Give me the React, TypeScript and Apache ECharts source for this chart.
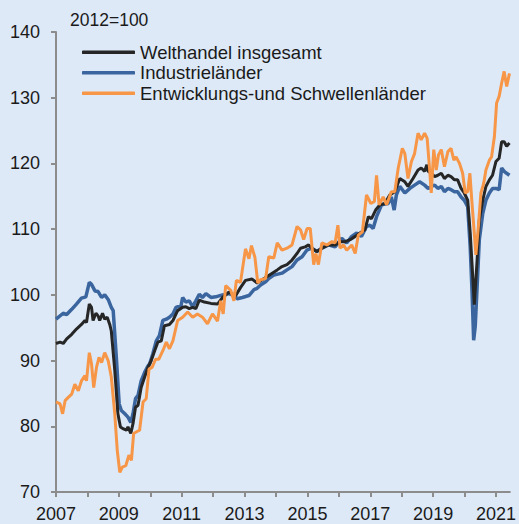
import React, { useEffect, useRef } from "react";
import * as echarts from "echarts";

const baseLabel = "2012=100";
const seriesNames = ["Welthandel insgesamt", "Industrieländer", "Entwicklungs-und Schwellenländer"];
const xTickYears = [2007, 2008, 2009, 2010, 2011, 2012, 2013, 2014, 2015, 2016, 2017, 2018, 2019, 2020, 2021];
const xLabelYears = [2007, 2009, 2011, 2013, 2015, 2017, 2019, 2021];

// [decimal year, index value]
const welthandel: [number, number][] = [
  [2007.0, 92.6], [2007.13, 92.8], [2007.23, 92.6], [2007.34, 93.3], [2007.5, 94.0], [2007.65, 94.8],
  [2007.81, 95.5], [2007.92, 96.1], [2007.97, 95.8], [2008.06, 98.6], [2008.13, 98.1], [2008.18, 96.1],
  [2008.27, 97.2], [2008.34, 96.8], [2008.39, 96.1], [2008.48, 97.2], [2008.55, 96.3], [2008.63, 96.6],
  [2008.71, 95.5], [2008.76, 94.5], [2008.87, 88.5], [2008.97, 81.9], [2009.05, 79.9], [2009.15, 79.6],
  [2009.24, 79.4], [2009.29, 79.9], [2009.38, 78.9], [2009.45, 80.4], [2009.53, 82.9], [2009.61, 83.2],
  [2009.71, 85.9], [2009.82, 87.5], [2009.93, 89.0], [2010.03, 90.0], [2010.14, 91.5], [2010.24, 92.8],
  [2010.35, 93.0], [2010.45, 95.3], [2010.61, 95.5], [2010.72, 96.1], [2010.87, 97.6], [2011.03, 98.1],
  [2011.13, 98.2], [2011.24, 97.9], [2011.35, 98.1], [2011.45, 97.9], [2011.56, 99.2], [2011.72, 98.9],
  [2011.93, 98.7], [2012.14, 98.6], [2012.3, 99.6], [2012.5, 100.4], [2012.72, 99.9], [2012.87, 101.1],
  [2013.03, 102.2], [2013.24, 102.4], [2013.4, 101.8], [2013.56, 102.3], [2013.72, 102.8], [2013.88, 103.3],
  [2014.04, 103.8], [2014.19, 104.3], [2014.35, 104.6], [2014.51, 105.3], [2014.67, 106.3], [2014.78, 107.1],
  [2014.93, 107.3], [2015.04, 107.6], [2015.14, 107.1], [2015.3, 106.6], [2015.46, 107.1], [2015.67, 107.6],
  [2015.88, 107.6], [2016.04, 108.1], [2016.2, 108.1], [2016.36, 108.4], [2016.52, 108.9], [2016.67, 109.4],
  [2016.83, 109.9], [2016.94, 111.9], [2017.04, 111.6], [2017.17, 112.9], [2017.31, 113.7], [2017.46, 113.9],
  [2017.62, 115.2], [2017.78, 115.7], [2017.94, 117.7], [2018.1, 117.2], [2018.2, 116.5], [2018.36, 117.7],
  [2018.52, 119.0], [2018.62, 119.3], [2018.73, 118.8], [2018.8, 119.8], [2018.84, 118.8], [2018.94, 118.5],
  [2019.05, 118.0], [2019.15, 118.2], [2019.26, 118.5], [2019.36, 117.7], [2019.47, 118.2], [2019.57, 118.0],
  [2019.68, 117.5], [2019.78, 117.5], [2019.89, 116.2], [2019.99, 115.5], [2020.1, 114.4], [2020.18, 109.4],
  [2020.26, 102.8], [2020.31, 98.5], [2020.4, 105.3], [2020.47, 111.4], [2020.58, 114.4], [2020.68, 116.5],
  [2020.79, 117.5], [2020.89, 118.2], [2021.0, 120.3], [2021.1, 120.8], [2021.18, 123.3], [2021.26, 123.3],
  [2021.34, 122.6], [2021.43, 123.1],
];

const industrie: [number, number][] = [
  [2007.0, 96.3], [2007.23, 97.2], [2007.34, 97.0], [2007.5, 97.8], [2007.65, 98.6], [2007.81, 99.5],
  [2007.95, 99.7], [2008.06, 101.9], [2008.13, 101.6], [2008.24, 100.6], [2008.34, 100.5], [2008.45, 99.6],
  [2008.55, 100.0], [2008.66, 99.3], [2008.76, 98.1], [2008.82, 97.6], [2008.92, 90.5], [2009.01, 83.4],
  [2009.08, 82.4], [2009.19, 81.9], [2009.29, 81.4], [2009.38, 80.6], [2009.45, 81.9], [2009.53, 84.2],
  [2009.61, 84.7], [2009.71, 86.9], [2009.82, 88.2], [2009.93, 89.2], [2009.98, 89.5], [2010.08, 91.0],
  [2010.19, 93.0], [2010.29, 93.8], [2010.4, 96.1], [2010.51, 96.3], [2010.61, 96.6], [2010.72, 97.1],
  [2010.82, 98.1], [2010.98, 98.4], [2011.03, 99.6], [2011.13, 98.9], [2011.24, 99.1], [2011.35, 98.2],
  [2011.45, 99.1], [2011.56, 100.1], [2011.66, 99.6], [2011.77, 100.2], [2011.93, 99.6], [2012.08, 99.7],
  [2012.3, 100.0], [2012.5, 100.2], [2012.66, 99.9], [2012.77, 99.4], [2012.93, 99.6], [2013.14, 99.9],
  [2013.3, 100.8], [2013.4, 101.0], [2013.51, 101.5], [2013.67, 102.0], [2013.77, 102.5], [2013.93, 103.0],
  [2014.19, 103.3], [2014.35, 103.8], [2014.51, 104.3], [2014.67, 105.3], [2014.83, 105.8], [2014.98, 106.8],
  [2015.14, 107.1], [2015.3, 106.6], [2015.46, 107.1], [2015.67, 107.6], [2015.88, 107.3], [2016.09, 108.6],
  [2016.25, 107.9], [2016.41, 108.9], [2016.57, 109.4], [2016.72, 108.9], [2016.88, 110.4], [2016.99, 110.6],
  [2017.09, 110.1], [2017.2, 111.9], [2017.36, 113.7], [2017.57, 113.9], [2017.67, 114.9], [2017.76, 112.9],
  [2017.83, 115.2], [2017.94, 116.5], [2018.1, 115.5], [2018.26, 116.2], [2018.41, 116.7], [2018.57, 117.2],
  [2018.73, 116.7], [2018.84, 116.2], [2018.94, 116.5], [2019.05, 116.7], [2019.15, 116.2], [2019.26, 116.5],
  [2019.36, 115.7], [2019.47, 116.2], [2019.57, 116.0], [2019.68, 115.7], [2019.78, 115.7], [2019.89, 114.9],
  [2019.99, 114.4], [2020.1, 113.4], [2020.18, 107.3], [2020.24, 100.2], [2020.29, 93.1], [2020.34, 95.2],
  [2020.4, 101.2], [2020.47, 108.4], [2020.58, 112.4], [2020.68, 114.4], [2020.79, 115.5], [2020.89, 116.2],
  [2021.0, 116.2], [2021.1, 116.0], [2021.18, 119.3], [2021.26, 118.8], [2021.34, 118.5], [2021.43, 118.2],
];

const entwicklung: [number, number][] = [
  [2007.0, 83.7], [2007.13, 83.4], [2007.21, 81.9], [2007.29, 83.9], [2007.39, 84.4], [2007.5, 84.9],
  [2007.6, 86.4], [2007.71, 85.4], [2007.81, 86.9], [2007.92, 87.7], [2007.97, 86.9], [2008.06, 91.2],
  [2008.13, 89.5], [2008.2, 85.9], [2008.29, 89.0], [2008.37, 90.5], [2008.45, 89.7], [2008.55, 91.2],
  [2008.66, 90.0], [2008.76, 87.5], [2008.87, 81.9], [2008.95, 76.3], [2009.03, 73.0], [2009.11, 73.8],
  [2009.22, 74.0], [2009.32, 75.6], [2009.4, 74.8], [2009.47, 78.9], [2009.58, 79.2], [2009.66, 79.4],
  [2009.77, 83.7], [2009.87, 84.2], [2009.96, 88.7], [2010.06, 89.0], [2010.17, 90.2], [2010.27, 90.2],
  [2010.4, 91.5], [2010.51, 92.8], [2010.61, 91.8], [2010.72, 93.0], [2010.87, 96.1], [2011.03, 96.6],
  [2011.19, 97.4], [2011.35, 96.6], [2011.5, 97.1], [2011.66, 96.6], [2011.82, 95.6], [2011.98, 97.1],
  [2012.14, 96.0], [2012.24, 99.1], [2012.32, 97.1], [2012.4, 101.4], [2012.56, 100.7], [2012.66, 99.1],
  [2012.74, 102.2], [2012.87, 101.9], [2013.03, 107.0], [2013.14, 105.5], [2013.22, 107.5], [2013.33, 105.7],
  [2013.42, 101.8], [2013.51, 102.3], [2013.67, 102.5], [2013.77, 105.8], [2013.93, 105.6], [2014.04, 107.9],
  [2014.19, 106.8], [2014.35, 107.1], [2014.51, 107.6], [2014.67, 110.4], [2014.78, 109.9], [2014.88, 108.4],
  [2014.99, 110.1], [2015.09, 110.1], [2015.2, 104.6], [2015.27, 106.3], [2015.35, 104.6], [2015.46, 107.9],
  [2015.62, 107.6], [2015.78, 108.1], [2015.88, 107.9], [2015.97, 110.6], [2016.04, 107.1], [2016.15, 107.6],
  [2016.25, 106.8], [2016.41, 107.6], [2016.52, 106.3], [2016.62, 109.1], [2016.75, 109.6], [2016.88, 115.2],
  [2017.02, 113.9], [2017.13, 114.2], [2017.2, 118.2], [2017.28, 113.7], [2017.41, 114.9], [2017.52, 113.7],
  [2017.67, 115.7], [2017.78, 115.7], [2017.89, 119.3], [2018.02, 122.3], [2018.1, 121.5], [2018.2, 117.7],
  [2018.31, 120.3], [2018.41, 121.5], [2018.52, 124.6], [2018.62, 123.6], [2018.73, 124.6], [2018.81, 123.8],
  [2018.89, 119.0], [2018.94, 115.5], [2019.02, 122.1], [2019.1, 119.0], [2019.17, 121.3], [2019.26, 122.1],
  [2019.36, 119.5], [2019.47, 121.8], [2019.57, 122.3], [2019.66, 120.5], [2019.73, 121.0], [2019.84, 120.0],
  [2019.94, 118.5], [2020.02, 115.5], [2020.1, 115.7], [2020.17, 118.5], [2020.23, 114.4], [2020.31, 109.4],
  [2020.36, 106.1], [2020.44, 110.4], [2020.52, 115.5], [2020.61, 117.0], [2020.68, 119.0], [2020.79, 120.5],
  [2020.86, 121.0], [2020.95, 124.1], [2021.02, 129.2], [2021.1, 130.2], [2021.18, 132.2], [2021.26, 134.0],
  [2021.34, 131.7], [2021.43, 133.7],
];

const FONT = "Liberation Sans, Arial, sans-serif";

export default function App() {
  const ref = useRef<HTMLDivElement>(null);
  useEffect(() => {
    if (!ref.current) return;
    const chart = echarts.init(ref.current, null, { renderer: "svg" });
    const axisColor = "#8c8c8c";
    chart.setOption({
      animation: false,
      backgroundColor: "#dde9f7",
      textStyle: { fontFamily: FONT },
      grid: { left: 56, right: 7, top: 32, bottom: 32, containLabel: false },
      graphic: [
        {
          type: "text",
          left: 70,
          top: 11,
          style: { text: baseLabel, fontSize: 17.5, fill: "#1a1a1a", fontFamily: FONT },
        },
      ],
      legend: {
        orient: "vertical",
        left: 82,
        top: 42,
        padding: 0,
        itemWidth: 53,
        itemHeight: 3.5,
        itemGap: 0,
        icon: "roundRect",
        data: seriesNames,
        textStyle: { fontSize: 18.5, color: "#1a1a1a", lineHeight: 20.5, fontFamily: FONT, padding: [0, 0, 0, 0] },
      },
      xAxis: {
        type: "value",
        min: 2007,
        max: 2021.44,
        interval: 1,
        splitLine: { show: false },
        axisLine: { show: true, onZero: false, lineStyle: { color: axisColor, width: 2 } },
        axisTick: { show: true, length: 5, customValues: xTickYears, lineStyle: { color: axisColor, width: 2 } },
        axisLabel: {
          customValues: xLabelYears,
          fontSize: 18,
          color: "#1a1a1a",
          margin: 13,
          fontFamily: FONT,
          formatter: (v: number) => String(Math.round(v)),
        },
      },
      yAxis: {
        type: "value",
        min: 70,
        max: 140,
        interval: 10,
        splitLine: { show: false },
        axisLine: { show: true, lineStyle: { color: axisColor, width: 2 } },
        axisTick: { show: true, length: 5, lineStyle: { color: axisColor, width: 2 } },
        axisLabel: { fontSize: 18, color: "#1a1a1a", margin: 16, fontFamily: FONT },
      },
      series: [
        {
          name: seriesNames[1],
          type: "line",
          data: industrie,
          showSymbol: false,
          color: "#3a659e",
          lineStyle: { width: 3.5, color: "#3a659e" },
          z: 2,
        },
        {
          name: seriesNames[0],
          type: "line",
          data: welthandel,
          showSymbol: false,
          color: "#262626",
          lineStyle: { width: 3, color: "#262626" },
          z: 3,
        },
        {
          name: seriesNames[2],
          type: "line",
          data: entwicklung,
          showSymbol: false,
          color: "#f79646",
          lineStyle: { width: 3, color: "#f79646" },
          z: 4,
        },
      ],
    });
    return () => chart.dispose();
  }, []);
  return <div ref={ref} style={{ width: 519, height: 524, position: "absolute", left: 0, top: 0 }} />;
}
